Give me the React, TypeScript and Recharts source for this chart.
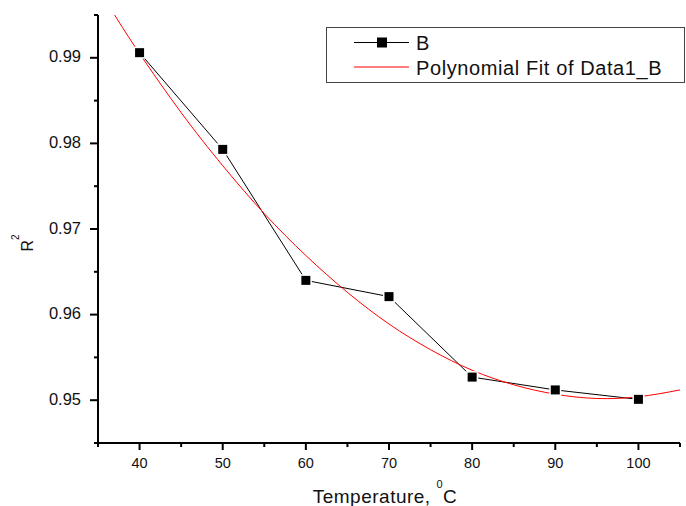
import React from "react";
import { LineChart, Line, XAxis, YAxis, Legend, Label } from "recharts";

// measured data
const temperatures = [40, 50, 60, 70, 80, 90, 100];
const r2Values = [0.9906, 0.9793, 0.964, 0.9621, 0.9527, 0.9512, 0.9501];

// polynomial fit
const fitTemperatures = [37, 40, 45, 50, 55, 60, 65, 70, 75, 80, 85, 90, 95, 100, 105];
const fitValues = [
  0.995, 0.9905, 0.9836, 0.9774, 0.9718, 0.9669, 0.9626, 0.9589, 0.9559, 0.9535,
  0.9518, 0.9507, 0.9502, 0.9504, 0.9512,
];

const xTicks = [35, 40, 45, 50, 55, 60, 65, 70, 75, 80, 85, 90, 95, 100, 105];
const yTicks = [0.945, 0.95, 0.955, 0.96, 0.965, 0.97, 0.975, 0.98, 0.985, 0.99, 0.995];

const measured = temperatures.map((t, i) => ({ t, r2: r2Values[i] }));
const fitted = fitTemperatures.map((t, i) => ({ t, r2: fitValues[i] }));

const FONT = "Arial, 'Liberation Sans', sans-serif";
const W = 686;
const H = 506;
const PLOT_LEFT = 98;
const PLOT_BOTTOM = 443;

const YTick = (props: any) => {
  const { y, payload } = props;
  const v = payload.value;
  const major = Math.abs(v * 100 - Math.round(v * 100)) < 1e-6;
  return (
    <g>
      <line x1={PLOT_LEFT - (major ? 8 : 4)} x2={PLOT_LEFT} y1={y} y2={y} stroke="#000" strokeWidth={2} />
      {major && (
        <text x={81} y={y} dy={4.5} textAnchor="end" fontSize={16.5} fontFamily={FONT} fill="#111">
          {v.toFixed(2)}
        </text>
      )}
    </g>
  );
};

const XTick = (props: any) => {
  const { x, payload } = props;
  const v = payload.value;
  const major = v % 10 === 0;
  return (
    <g>
      <line x1={x} x2={x} y1={PLOT_BOTTOM} y2={PLOT_BOTTOM + (major ? 7 : 4)} stroke="#000" strokeWidth={2} />
      {major && (
        <text x={x} y={PLOT_BOTTOM + 25} textAnchor="middle" fontSize={14.5} fontFamily={FONT} fill="#111">
          {v}
        </text>
      )}
    </g>
  );
};

const SquareDot = (props: any) => {
  const { cx, cy, index } = props;
  if (cx == null || cy == null) return <g key={`d-${index}`} />;
  return (
    <g key={`d-${index}`}>
      <rect x={cx - 6} y={cy - 6} width={12} height={12} fill="#fff" />
      <rect x={cx - 4.5} y={cy - 4.5} width={9} height={9} fill="#000" />
    </g>
  );
};

const XTitle = (props: any) => {
  const { viewBox } = props;
  const cx = viewBox.x + viewBox.width / 2 - 4;
  return (
    <text x={cx} y={viewBox.y + 60} textAnchor="middle" fontSize={19} fontFamily={FONT} fill="#111" letterSpacing={0.5}>
      Temperature,{" "}
      <tspan fontSize={11} dy={-15}>0</tspan>
      <tspan dy={15}>C</tspan>
    </text>
  );
};

const YTitle = (props: any) => {
  const { viewBox } = props;
  const cy = viewBox.y + viewBox.height / 2 + 14;
  const x = 33;
  return (
    <text x={x} y={cy} transform={`rotate(-90, ${x}, ${cy})`} textAnchor="middle" fontSize={16} fontFamily={FONT} fill="#111">
      R<tspan fontSize={10} dy={-14}>2</tspan>
    </text>
  );
};

const LegendBox = (props: any) => {
  const items = props.payload || [];
  return (
    <svg width={360} height={56} style={{ display: "block" }}>
      <rect x={0.5} y={0.5} width={358} height={55} fill="#fff" stroke="#444" strokeWidth={1} />
      {items.map((item: any, i: number) => {
        const ly = i === 0 ? 15.5 : 40;
        const isData = i === 0;
        return (
          <g key={item.value}>
            <line x1={28} x2={83} y1={ly} y2={ly} stroke={item.color} strokeWidth={1} />
            {isData && <rect x={51} y={ly - 5} width={10} height={10} fill="#000" />}
            <text x={90} y={ly + 7.5} fontSize={20} fontFamily={FONT} fill="#111" letterSpacing={0.6}>
              {item.value}
            </text>
          </g>
        );
      })}
    </svg>
  );
};

export default function App() {
  return (
    <div style={{ position: "absolute", left: 0, top: 0, width: W, height: H, background: "#fff" }}>
      <LineChart width={W} height={H} margin={{ top: 15, right: 6, bottom: 0, left: 0 }}>
        <XAxis
          dataKey="t"
          type="number"
          domain={[35, 105]}
          ticks={xTicks}
          interval={0}
          height={63}
          axisLine={{ stroke: "#000", strokeWidth: 2 }}
          tickLine={false}
          tick={XTick}
          allowDuplicatedCategory={false}
        >
          <Label content={XTitle} />
        </XAxis>
        <YAxis
          dataKey="r2"
          type="number"
          domain={[0.945, 0.995]}
          ticks={yTicks}
          interval={0}
          width={98}
          axisLine={{ stroke: "#000", strokeWidth: 2 }}
          tickLine={false}
          tick={YTick}
        >
          <Label content={YTitle} />
        </YAxis>
        <Legend
          layout="horizontal"
          verticalAlign="middle"
          content={LegendBox}
          wrapperStyle={{ position: "absolute", left: 326, top: 27, width: 360, height: 56 }}
        />
        <Line
          data={measured}
          dataKey="r2"
          name="B"
          stroke="#000"
          strokeWidth={1}
          dot={SquareDot}
          activeDot={false}
          isAnimationActive={false}
        />
        <Line
          data={fitted}
          dataKey="r2"
          name="Polynomial Fit of Data1_B"
          type="natural"
          stroke="#ff0000"
          strokeWidth={1}
          dot={false}
          activeDot={false}
          isAnimationActive={false}
        />
      </LineChart>
    </div>
  );
}
